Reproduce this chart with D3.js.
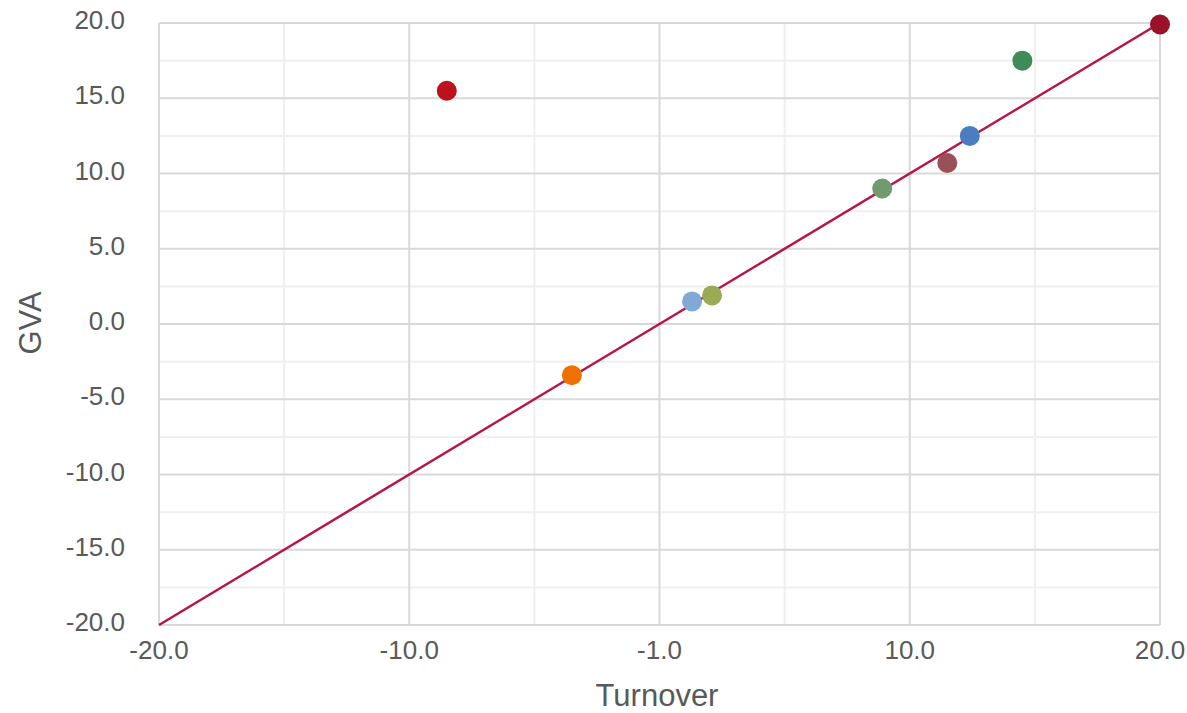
<!DOCTYPE html>
<html><head><meta charset="utf-8">
<script src="https://cdn.jsdelivr.net/npm/d3@7"></script>
<style>body{margin:0;background:#fff}svg{display:block}text{font-family:"Liberation Sans",Arial,sans-serif}</style>
</head><body>
<svg id="c" width="1187" height="713"></svg>
<script>
const names = ["A","B","C","D","E","F","G","H","I"];
const turnover = [-8.5, -3.5, 1.3, 2.1, 8.9, 11.5, 12.4, 14.5, 20.0];
const gva = [15.5, -3.4, 1.5, 1.9, 9.0, 10.7, 12.5, 17.5, 19.9];
const colors = ["#BE111E","#EE7203","#80A9D6","#9BAA55","#6F9B6F","#9B4F57","#4A7EC0","#3E8B57","#9A1229"];
const xTicks = [-20, -10, 0, 10, 20];
const xTickLabels = ["-20.0","-10.0","-1.0","10.0","20.0"];
const yTicks = [-20,-15,-10,-5,0,5,10,15,20];
const yTickLabels = ["-20.0","-15.0","-10.0","-5.0","0.0","5.0","10.0","15.0","20.0"];
const xMinor = [-15,-5,5,15];
const yMinor = [-17.5,-12.5,-7.5,-2.5,2.5,7.5,12.5,17.5];
const lineData = [[-20,-20],[20,20]];

const svg = d3.select("#c");
const x = d3.scaleLinear().domain([-20,20]).range([159,1160]);
const y = d3.scaleLinear().domain([-20,20]).range([625,23]);

const g = svg.append("g");
g.selectAll(".ymin").data(yMinor).join("line").attr("x1",159).attr("x2",1160)
  .attr("y1",d=>y(d)).attr("y2",d=>y(d)).attr("stroke","#EFEFEF").attr("stroke-width",2);
g.selectAll(".xmin").data(xMinor).join("line").attr("y1",23).attr("y2",625)
  .attr("x1",d=>x(d)).attr("x2",d=>x(d)).attr("stroke","#EFEFEF").attr("stroke-width",2);
g.selectAll(".ymaj").data(yTicks).join("line").attr("x1",159).attr("x2",1160)
  .attr("y1",d=>y(d)).attr("y2",d=>y(d)).attr("stroke","#D9D9D9").attr("stroke-width",2);
g.selectAll(".xmaj").data(xTicks).join("line").attr("y1",23).attr("y2",625)
  .attr("x1",d=>x(d)).attr("x2",d=>x(d)).attr("stroke","#D9D9D9").attr("stroke-width",2);

svg.selectAll(".yl").data(yTicks).join("text").attr("x",125).attr("y",d=>y(d)+6)
  .attr("text-anchor","end").attr("font-size",26).attr("fill","#595959").text((d,i)=>yTickLabels[i]);
svg.selectAll(".xl").data(xTicks).join("text").attr("x",d=>x(d)).attr("y",659)
  .attr("text-anchor","middle").attr("font-size",26).attr("fill","#595959").text((d,i)=>xTickLabels[i]);

svg.append("text").attr("x",657).attr("y",706).attr("text-anchor","middle")
  .attr("font-size",31).attr("fill","#595959").text("Turnover");
svg.append("text").attr("transform","translate(41,323) rotate(-90)").attr("text-anchor","middle")
  .attr("font-size",31).attr("fill","#595959").text("GVA");

svg.append("path").datum(lineData)
  .attr("d", d3.line().x(d=>x(d[0])).y(d=>y(d[1])))
  .attr("stroke","#B8134A").attr("stroke-width",2.5).attr("fill","none");

svg.selectAll(".pt").data(names).join("circle")
  .attr("cx",(d,i)=>x(turnover[i])).attr("cy",(d,i)=>y(gva[i])).attr("r",10)
  .attr("fill",(d,i)=>colors[i]);
</script>
</body></html>
